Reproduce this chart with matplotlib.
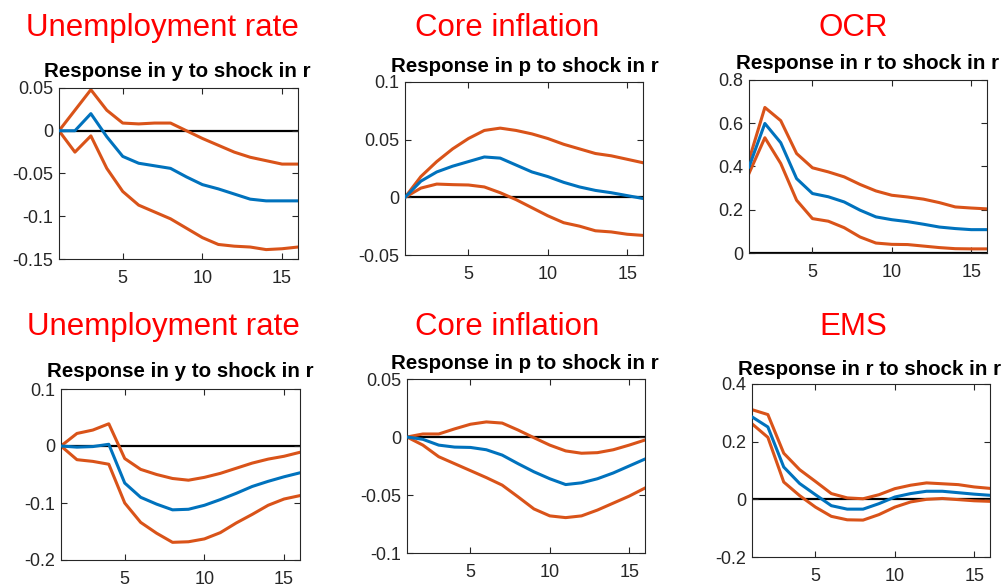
import matplotlib.pyplot as plt
import numpy as np

plt.rcParams['font.family'] = ['Liberation Sans', 'DejaVu Sans']
plt.rcParams['axes.unicode_minus'] = False

W, H = 1007, 588
horizon = np.arange(1, 17)

# impulse responses: (lower band, median, upper band)
y_top_lo = [0, -0.025, -0.006, -0.044, -0.071, -0.087, -0.095, -0.103, -0.114, -0.125, -0.133, -0.135, -0.136, -0.139, -0.138, -0.136]
y_top_md = [0, 0, 0.020, -0.007, -0.030, -0.038, -0.041, -0.044, -0.054, -0.063, -0.068, -0.074, -0.080, -0.082, -0.082, -0.082]
y_top_hi = [0, 0.024, 0.048, 0.024, 0.009, 0.008, 0.009, 0.009, 0.0, -0.009, -0.017, -0.025, -0.031, -0.035, -0.039, -0.039]

p_top_lo = [0, 0.008, 0.0115, 0.011, 0.0107, 0.009, 0.004, -0.002, -0.009, -0.016, -0.022, -0.025, -0.029, -0.030, -0.032, -0.033]
p_top_md = [0, 0.014, 0.022, 0.027, 0.031, 0.035, 0.034, 0.028, 0.022, 0.018, 0.013, 0.009, 0.006, 0.004, 0.0015, -0.001]
p_top_hi = [0, 0.018, 0.031, 0.042, 0.051, 0.058, 0.060, 0.058, 0.055, 0.051, 0.046, 0.042, 0.038, 0.036, 0.033, 0.030]

r_top_lo = [0.368, 0.533, 0.414, 0.244, 0.159, 0.147, 0.117, 0.074, 0.046, 0.040, 0.039, 0.032, 0.025, 0.020, 0.019, 0.019]
r_top_md = [0.398, 0.599, 0.510, 0.344, 0.275, 0.260, 0.236, 0.198, 0.167, 0.154, 0.145, 0.133, 0.120, 0.113, 0.108, 0.108]
r_top_hi = [0.430, 0.673, 0.612, 0.460, 0.394, 0.375, 0.352, 0.317, 0.287, 0.267, 0.259, 0.249, 0.233, 0.213, 0.208, 0.204]

y_bot_lo = [0, -0.024, -0.027, -0.032, -0.100, -0.134, -0.153, -0.169, -0.168, -0.163, -0.152, -0.135, -0.120, -0.104, -0.093, -0.087]
y_bot_md = [0, -0.002, -0.001, 0.003, -0.065, -0.090, -0.102, -0.112, -0.111, -0.104, -0.094, -0.083, -0.071, -0.062, -0.054, -0.047]
y_bot_hi = [0, 0.022, 0.028, 0.039, -0.022, -0.041, -0.050, -0.057, -0.060, -0.055, -0.048, -0.039, -0.030, -0.023, -0.018, -0.011]

p_bot_lo = [0, -0.007, -0.017, -0.023, -0.029, -0.035, -0.0415, -0.0516, -0.062, -0.068, -0.0695, -0.068, -0.063, -0.057, -0.051, -0.044]
p_bot_md = [0, -0.002, -0.007, -0.0087, -0.009, -0.011, -0.0156, -0.023, -0.030, -0.036, -0.041, -0.0395, -0.036, -0.031, -0.025, -0.019]
p_bot_hi = [0, 0.0026, 0.0026, 0.007, 0.011, 0.013, 0.012, 0.006, -0.0006, -0.007, -0.012, -0.014, -0.0135, -0.011, -0.007, -0.0026]

r_bot_lo = [0.262, 0.215, 0.060, 0.013, -0.027, -0.059, -0.071, -0.072, -0.053, -0.027, -0.009, 0.0, 0.003, -0.001, -0.005, -0.007]
r_bot_md = [0.286, 0.251, 0.112, 0.055, 0.016, -0.022, -0.034, -0.034, -0.015, 0.008, 0.020, 0.028, 0.028, 0.023, 0.018, 0.014]
r_bot_hi = [0.311, 0.294, 0.160, 0.103, 0.062, 0.020, 0.005, 0.002, 0.016, 0.037, 0.049, 0.057, 0.054, 0.051, 0.043, 0.038]

headers = ['Unemployment rate', 'Core inflation', 'OCR',
           'Unemployment rate', 'Core inflation', 'EMS']
subtitles = ['Response in y to shock in r', 'Response in p to shock in r', 'Response in r to shock in r',
             'Response in y to shock in r', 'Response in p to shock in r', 'Response in r to shock in r']
bands = [(y_top_lo, y_top_md, y_top_hi), (p_top_lo, p_top_md, p_top_hi), (r_top_lo, r_top_md, r_top_hi),
         (y_bot_lo, y_bot_md, y_bot_hi), (p_bot_lo, p_bot_md, p_bot_hi), (r_bot_lo, r_bot_md, r_bot_hi)]
yticks = [[-0.15, -0.1, -0.05, 0, 0.05], [-0.05, 0, 0.05, 0.1], [0, 0.2, 0.4, 0.6, 0.8],
          [-0.2, -0.1, 0, 0.1], [-0.1, -0.05, 0, 0.05], [-0.2, 0, 0.2, 0.4]]
ytick_labels = [['-0.15', '-0.1', '-0.05', '0', '0.05'], ['-0.05', '0', '0.05', '0.1'],
                ['0', '0.2', '0.4', '0.6', '0.8'], ['-0.2', '-0.1', '0', '0.1'],
                ['-0.1', '-0.05', '0', '0.05'], ['-0.2', '0', '0.2', '0.4']]

# layout in pixels: axes box (left, top, right, bottom), header (x, baseline), subtitle (x, baseline)
boxes = [(59, 88, 298, 259), (405, 82, 643, 255), (749, 80, 987, 253),
         (61, 389, 300, 560), (407, 379, 645, 553), (752, 384, 990, 557)]
header_pos = [(162, 36), (507, 36), (853, 36), (163, 335), (507, 335), (853, 335)]
sub_pos = [(177, 77), (525, 72), (868, 69), (180, 377), (525, 369), (869, 375)]

blue = '#0072BD'
orange = '#D95319'
axcol = '#262626'

fig = plt.figure(figsize=(W / 100, H / 100), dpi=100)

for i in range(6):
    l, t, r, b = boxes[i]
    ax = fig.add_axes([l / W, 1 - b / H, (r - l) / W, (b - t) / H])
    lo, md, hi = bands[i]
    ax.axhline(0, color='black', lw=1.6, zorder=1)
    ax.plot(horizon, hi, color=orange, lw=2.2, zorder=2)
    ax.plot(horizon, lo, color=orange, lw=2.2, zorder=2)
    ax.plot(horizon, md, color=blue, lw=2.2, zorder=3)
    ax.set_xlim(1, 16)
    ax.set_ylim(yticks[i][0], yticks[i][-1])
    ax.set_xticks([5, 10, 15])
    ax.set_yticks(yticks[i])
    ax.set_yticklabels(ytick_labels[i])
    ax.tick_params(direction='in', length=4, width=0.8, top=True, right=True,
                   labelsize=13, colors=axcol, labelcolor=axcol)
    ax.tick_params(axis='x', pad=8)
    ax.tick_params(axis='y', pad=4)
    for sp in ax.spines.values():
        sp.set_color(axcol)
        sp.set_linewidth(0.8)

    hx, hy = header_pos[i]
    fig.text(hx / W, 1 - hy / H, headers[i], color='#FF0000', fontsize=22.5,
             ha='center', va='baseline')
    sx, sy = sub_pos[i]
    fig.text(sx / W, 1 - sy / H, subtitles[i], color='black', fontsize=14.8,
             fontweight='bold', ha='center', va='baseline')

fig.savefig('out.png', dpi=100)
